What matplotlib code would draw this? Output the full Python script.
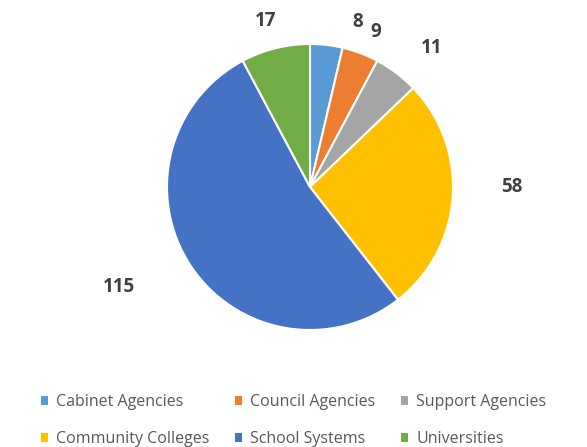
import matplotlib
matplotlib.use("Agg")
import matplotlib.pyplot as plt
import numpy as np

categories = ["Cabinet Agencies", "Council Agencies", "Support Agencies",
              "Community Colleges", "School Systems", "Universities"]
values = [8, 9, 11, 58, 115, 17]
colors = ["#5B9BD5", "#ED7D31", "#A5A5A5", "#FFC000", "#4472C4", "#70AD47"]
label_dist = [1.2, 1.18, 1.29, 1.41, 1.51, 1.2]
label_shift = [-9.6, -2.4, -4.0, 4.1, -5.5, 1.0]

plt.rcParams['font.family'] = ['Open Sans', 'DejaVu Sans']

fig = plt.figure(figsize=(5.87, 4.47), dpi=100)
W, H = 587, 447
cx, cy, r = 310, 187, 143
ax = fig.add_axes([(cx - r) / W, 1 - (cy + r) / H, 2 * r / W, 2 * r / H])
wedges, texts = ax.pie(values, colors=colors, startangle=90, counterclock=False,
                       labels=[str(v) for v in values], labeldistance=1.25,
                       wedgeprops=dict(edgecolor="white", linewidth=1.5),
                       textprops=dict(fontsize=13.5, fontweight="bold", color="#404040"))
for w, t, d, s in zip(wedges, texts, label_dist, label_shift):
    ang = np.deg2rad((w.theta1 + w.theta2) / 2 + s)
    t.set_position((d * np.cos(ang), d * np.sin(ang)))
    t.set_ha("center")
    t.set_va("center")
ax.set_xlim(-1, 1)
ax.set_ylim(-1, 1)
ax.set_aspect("equal")

order = [0, 3, 1, 4, 2, 5]
leg = fig.legend([wedges[i] for i in order], [categories[i] for i in order],
                 ncol=3, loc="lower center", bbox_to_anchor=(0.5, -0.032),
                 frameon=False, fontsize=11.5, handlelength=0.45, handleheight=0.45,
                 handletextpad=0.5, columnspacing=1.6, labelspacing=1.3)
for t in leg.get_texts():
    t.set_color("#595959")
for h in leg.legend_handles:
    h.set_edgecolor("none")

fig.savefig("out.png", dpi=100, facecolor="white")
